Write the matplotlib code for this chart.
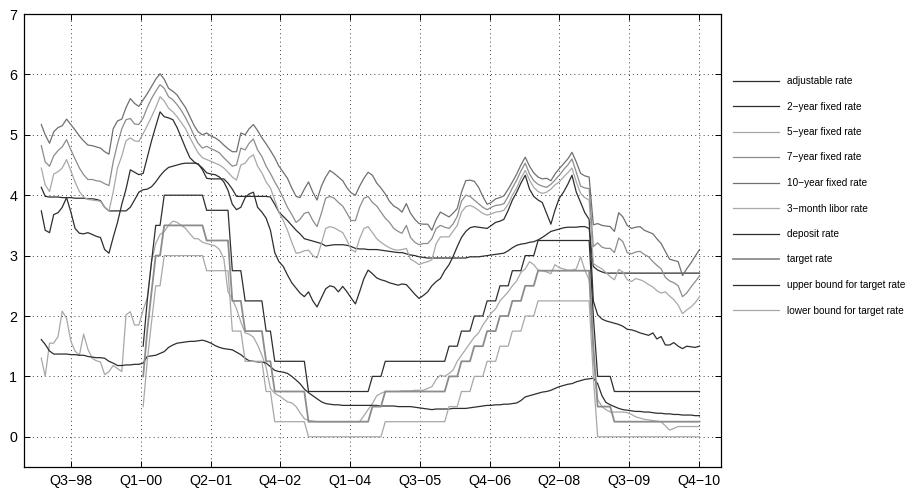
import datetime as dt

import matplotlib
matplotlib.use("Agg")
import matplotlib.pyplot as plt
import pandas as pd

plt.rcParams["font.family"] = ["Liberation Sans", "DejaVu Sans"]

# monthly observations, Feb 1998 .. Jan 2011
START = "1998-02-01"
N_MONTHS = 156

adjustable = [
    4.13, 3.98, 3.97, 3.97, 3.97, 3.96, 3.96, 3.96, 3.95, 3.95, 3.95, 3.94,
    3.94, 3.93, 3.91, 3.80, 3.74, 3.74, 3.74, 3.74, 3.74, 3.80, 3.92, 4.05,
    4.09, 4.10, 4.14, 4.22, 4.32, 4.40, 4.46, 4.48, 4.50, 4.52, 4.53, 4.53,
    4.53, 4.52, 4.42, 4.28, 4.27, 4.27, 4.27, 4.27, 4.20, 4.10, 3.98, 3.98,
    3.98, 3.98, 3.98, 3.98, 3.98, 3.98, 3.97, 3.85, 3.72, 3.65, 3.58, 3.50,
    3.42, 3.36, 3.28, 3.26, 3.24, 3.22, 3.20, 3.16, 3.17, 3.18, 3.18, 3.18,
    3.17, 3.15, 3.12, 3.11, 3.11, 3.10, 3.10, 3.10, 3.09, 3.08, 3.07, 3.06,
    3.05, 3.05, 3.03, 3.01, 3.00, 2.98, 2.97, 2.96, 2.96, 2.96, 2.96, 2.96,
    2.96, 2.96, 2.96, 2.96, 2.96, 2.98, 2.98, 2.98, 2.99, 3.00, 3.01, 3.02,
    3.03, 3.04, 3.08, 3.13, 3.17, 3.19, 3.20, 3.22, 3.23, 3.26, 3.30, 3.35,
    3.40, 3.42, 3.44, 3.46, 3.47, 3.47, 3.47, 3.48, 3.48, 3.45, 2.82, 2.76,
    2.73, 2.71, 2.71, 2.71, 2.71, 2.71, 2.71, 2.71, 2.71, 2.71, 2.71, 2.71,
    2.71, 2.71, 2.71, 2.71, 2.71, 2.71, 2.71, 2.71, 2.71, 2.71, 2.71, 2.71,
]

fixed_2y = [
    3.74, 3.42, 3.38, 3.68, 3.71, 3.80, 3.96, 3.72, 3.45, 3.37, 3.36, 3.38,
    3.35, 3.32, 3.30, 3.10, 3.04, 3.30, 3.55, 3.85, 4.10, 4.42, 4.38, 4.34,
    4.36, 4.62, 4.90, 5.14, 5.38, 5.30, 5.28, 5.25, 5.12, 4.95, 4.78, 4.62,
    4.55, 4.51, 4.45, 4.37, 4.35, 4.34, 4.30, 4.22, 4.08, 3.85, 3.76, 3.80,
    3.96, 4.02, 4.05, 3.80, 3.72, 3.62, 3.42, 3.05, 2.90, 2.82, 2.68, 2.55,
    2.46, 2.38, 2.32, 2.40, 2.25, 2.15, 2.30, 2.45, 2.50, 2.48, 2.40, 2.49,
    2.40, 2.30, 2.20, 2.40, 2.62, 2.76, 2.70, 2.63, 2.60, 2.58, 2.55, 2.53,
    2.51, 2.53, 2.52, 2.44, 2.36, 2.29, 2.34, 2.40, 2.50, 2.57, 2.62, 2.75,
    2.85, 2.98, 3.15, 3.30, 3.40, 3.46, 3.48, 3.47, 3.46, 3.45, 3.50, 3.55,
    3.57, 3.60, 3.75, 3.92, 4.05, 4.20, 4.33, 4.10, 3.98, 3.92, 3.88, 3.70,
    3.52, 3.75, 3.95, 4.05, 4.18, 4.33, 4.05, 3.88, 3.71, 3.60, 2.25, 2.02,
    1.95, 1.92, 1.90, 1.88, 1.86, 1.83, 1.78, 1.77, 1.75, 1.72, 1.70, 1.68,
    1.72, 1.62, 1.66, 1.52, 1.52, 1.56, 1.50, 1.46, 1.50, 1.49, 1.48, 1.50,
]

fixed_5y = [
    4.45, 4.17, 4.06, 4.35, 4.39, 4.45, 4.59, 4.40, 4.22, 4.06, 3.97, 3.93,
    3.92, 3.91, 3.90, 3.80, 3.74, 4.05, 4.45, 4.65, 4.90, 4.95, 4.90, 4.89,
    5.02, 5.15, 5.30, 5.45, 5.63, 5.56, 5.44, 5.38, 5.30, 5.20, 5.10, 4.95,
    4.82, 4.70, 4.62, 4.59, 4.56, 4.53, 4.50, 4.45, 4.38, 4.30, 4.25, 4.50,
    4.53, 4.62, 4.67, 4.48, 4.37, 4.22, 4.12, 3.92, 3.72, 3.58, 3.42, 3.22,
    3.04, 3.05, 3.08, 3.09, 3.00, 2.96, 3.20, 3.45, 3.48, 3.46, 3.42, 3.38,
    3.25, 3.10, 3.06, 3.28, 3.45, 3.48, 3.38, 3.28, 3.22, 3.17, 3.13, 3.10,
    3.09, 3.10, 3.12, 2.94, 2.90, 2.85, 2.88, 2.90, 2.93, 3.20, 3.31, 3.31,
    3.31, 3.40, 3.50, 3.72, 3.81, 3.83, 3.80, 3.75, 3.70, 3.67, 3.69, 3.72,
    3.73, 3.75, 3.85, 4.00, 4.12, 4.28, 4.41, 4.25, 4.13, 4.06, 4.03, 4.05,
    4.10, 4.17, 4.22, 4.30, 4.37, 4.45, 4.22, 4.03, 3.96, 3.92, 2.87, 2.82,
    2.78, 2.72, 2.65, 2.60, 2.77, 2.73, 2.60, 2.57, 2.62, 2.60, 2.57, 2.52,
    2.48, 2.42, 2.38, 2.40, 2.33, 2.27, 2.18, 2.04, 2.10, 2.15, 2.22, 2.32,
]

fixed_7y = [
    4.82, 4.55, 4.48, 4.65, 4.74, 4.80, 4.92, 4.75, 4.60, 4.45, 4.34, 4.26,
    4.26, 4.24, 4.23, 4.19, 4.16, 4.55, 4.85, 5.10, 5.25, 5.27, 5.18, 5.17,
    5.28, 5.45, 5.60, 5.72, 5.83, 5.77, 5.63, 5.58, 5.50, 5.40, 5.28, 5.14,
    4.98, 4.86, 4.78, 4.81, 4.77, 4.74, 4.70, 4.62, 4.55, 4.48, 4.50, 4.78,
    4.75, 4.86, 4.93, 4.75, 4.64, 4.48, 4.36, 4.22, 4.10, 3.95, 3.80, 3.68,
    3.55, 3.60, 3.70, 3.72, 3.58, 3.48, 3.70, 3.95, 3.98, 3.95, 3.88, 3.82,
    3.70, 3.58, 3.58, 3.80, 3.95, 3.98, 3.88, 3.82, 3.72, 3.62, 3.55, 3.45,
    3.40, 3.37, 3.50, 3.30, 3.22, 3.18, 3.20, 3.20, 3.28, 3.45, 3.50, 3.47,
    3.45, 3.52, 3.65, 3.90, 4.00, 3.98, 3.92, 3.86, 3.80, 3.76, 3.80, 3.83,
    3.84, 3.86, 3.98, 4.12, 4.25, 4.40, 4.53, 4.35, 4.24, 4.18, 4.15, 4.13,
    4.18, 4.25, 4.33, 4.42, 4.50, 4.60, 4.38, 4.15, 4.12, 4.11, 3.15, 3.21,
    3.14, 3.12, 3.12, 3.05, 3.29, 3.23, 3.05, 3.03, 3.06, 3.07, 3.02, 2.98,
    2.90, 2.84, 2.78, 2.64, 2.58, 2.55, 2.50, 2.32, 2.38, 2.48, 2.57, 2.66,
]

fixed_10y = [
    5.17, 5.00, 4.86, 5.05, 5.12, 5.15, 5.26, 5.17, 5.08, 4.98, 4.90, 4.83,
    4.82, 4.80, 4.78, 4.72, 4.68, 5.10, 5.23, 5.26, 5.45, 5.60, 5.52, 5.47,
    5.58, 5.68, 5.80, 5.92, 6.01, 5.92, 5.77, 5.72, 5.66, 5.55, 5.45, 5.30,
    5.15, 5.05, 5.00, 5.03, 4.98, 4.95, 4.90, 4.83, 4.77, 4.72, 4.72, 5.03,
    5.00, 5.10, 5.17, 5.07, 4.95, 4.85, 4.74, 4.62, 4.48, 4.38, 4.28, 4.12,
    3.98, 3.96, 4.10, 4.22, 4.05, 3.92, 4.15, 4.30, 4.41, 4.36, 4.30, 4.24,
    4.12, 4.04, 4.00, 4.15, 4.28, 4.38, 4.33, 4.20, 4.12, 4.02, 3.90, 3.82,
    3.78, 3.72, 3.86, 3.70, 3.60, 3.53, 3.52, 3.52, 3.42, 3.60, 3.72, 3.68,
    3.64, 3.70, 3.78, 4.05, 4.24, 4.25, 4.23, 4.13, 3.98, 3.85, 3.88, 3.94,
    3.96, 3.99, 4.10, 4.22, 4.35, 4.50, 4.63, 4.48, 4.37, 4.30, 4.27, 4.28,
    4.24, 4.35, 4.44, 4.52, 4.60, 4.71, 4.55, 4.36, 4.32, 4.30, 3.51, 3.53,
    3.50, 3.49, 3.48, 3.40, 3.71, 3.64, 3.50, 3.45, 3.47, 3.48, 3.42, 3.39,
    3.36, 3.28, 3.20, 3.07, 2.94, 2.92, 2.90, 2.67, 2.78, 2.88, 2.99, 3.10,
]

libor_3m = [
    1.30, 1.00, 1.55, 1.55, 1.66, 2.08, 1.96, 1.58, 1.42, 1.35, 1.70, 1.45,
    1.30, 1.26, 1.24, 1.03, 1.08, 1.18, 1.13, 1.08, 2.02, 2.07, 1.85, 1.85,
    2.10, 2.30, 2.90, 3.20, 3.35, 3.40, 3.50, 3.57, 3.55, 3.50, 3.45, 3.36,
    3.28, 3.28, 3.22, 3.20, 3.18, 3.16, 3.10, 2.95, 2.40, 2.28, 2.12, 1.90,
    1.72, 1.70, 1.65, 1.52, 1.35, 1.15, 0.80, 0.72, 0.68, 0.63, 0.58, 0.56,
    0.50, 0.40, 0.30, 0.27, 0.26, 0.25, 0.25, 0.25, 0.25, 0.25, 0.25, 0.25,
    0.25, 0.25, 0.25, 0.25, 0.35, 0.45, 0.55, 0.68, 0.72, 0.75, 0.75, 0.75,
    0.75, 0.76, 0.76, 0.76, 0.77, 0.77, 0.77, 0.80, 0.83, 0.95, 1.02, 1.00,
    1.05, 1.10, 1.25, 1.35, 1.45, 1.55, 1.65, 1.72, 1.85, 1.95, 2.05, 2.12,
    2.25, 2.32, 2.40, 2.50, 2.58, 2.72, 2.78, 2.90, 2.85, 2.76, 2.75, 2.73,
    2.70, 2.85, 2.80, 2.78, 2.76, 2.76, 2.78, 2.98, 2.76, 2.60, 1.30, 0.62,
    0.50, 0.45, 0.41, 0.41, 0.41, 0.41, 0.40, 0.37, 0.33, 0.31, 0.29, 0.28,
    0.27, 0.26, 0.25, 0.18, 0.11, 0.14, 0.17, 0.17, 0.17, 0.17, 0.17, 0.17,
]

deposit = [
    1.61, 1.53, 1.42, 1.37, 1.37, 1.37, 1.37, 1.36, 1.36, 1.35, 1.35, 1.33,
    1.32, 1.31, 1.31, 1.30, 1.25, 1.22, 1.18, 1.18, 1.19, 1.19, 1.20, 1.20,
    1.22, 1.33, 1.34, 1.35, 1.38, 1.41, 1.48, 1.52, 1.55, 1.56, 1.57, 1.58,
    1.58, 1.59, 1.60, 1.58, 1.55, 1.51, 1.48, 1.46, 1.45, 1.44, 1.40, 1.36,
    1.30, 1.26, 1.25, 1.24, 1.24, 1.22, 1.16, 1.10, 1.08, 1.07, 1.05, 1.00,
    0.94, 0.88, 0.79, 0.73, 0.68, 0.63, 0.58, 0.55, 0.54, 0.53, 0.53, 0.52,
    0.52, 0.52, 0.52, 0.52, 0.52, 0.52, 0.52, 0.52, 0.51, 0.51, 0.51, 0.51,
    0.50, 0.50, 0.50, 0.50, 0.49, 0.48, 0.47, 0.46, 0.45, 0.46, 0.46, 0.46,
    0.46, 0.47, 0.47, 0.47, 0.47, 0.48, 0.49, 0.50, 0.51, 0.52, 0.52, 0.53,
    0.53, 0.54, 0.54, 0.55, 0.56, 0.60, 0.66, 0.68, 0.70, 0.72, 0.74, 0.75,
    0.77, 0.80, 0.83, 0.85, 0.87, 0.88, 0.91, 0.93, 0.95, 0.96, 0.97, 0.88,
    0.68, 0.57, 0.53, 0.50, 0.47, 0.45, 0.44, 0.43, 0.42, 0.42, 0.41, 0.41,
    0.40, 0.39, 0.39, 0.38, 0.38, 0.37, 0.37, 0.36, 0.36, 0.36, 0.35, 0.35,
]

# SNB target band, starts Jan 2000 (first 24 months empty)
NAN = float("nan")
upper_bound = [NAN] * 24 + [
    1.50, 2.25, 2.90, 3.50, 3.50, 4.00, 4.00, 4.00, 4.00, 4.00, 4.00, 4.00,
    4.00, 4.00, 4.00, 3.75, 3.75, 3.75, 3.75, 3.75, 3.75, 2.75, 2.75, 2.75,
    2.25, 2.25, 2.25, 2.25, 2.25, 1.75, 1.75, 1.25, 1.25, 1.25, 1.25, 1.25,
    1.25, 1.25, 1.25, 0.75, 0.75, 0.75, 0.75, 0.75, 0.75, 0.75, 0.75, 0.75,
    0.75, 0.75, 0.75, 0.75, 0.75, 0.75, 1.00, 1.00, 1.00, 1.25, 1.25, 1.25,
    1.25, 1.25, 1.25, 1.25, 1.25, 1.25, 1.25, 1.25, 1.25, 1.25, 1.25, 1.25,
    1.50, 1.50, 1.50, 1.75, 1.75, 1.75, 2.00, 2.00, 2.00, 2.25, 2.25, 2.25,
    2.50, 2.50, 2.50, 2.75, 2.75, 2.75, 3.00, 3.00, 3.00, 3.25, 3.25, 3.25,
    3.25, 3.25, 3.25, 3.25, 3.25, 3.25, 3.25, 3.25, 3.25, 3.25, 2.00, 1.00,
    1.00, 1.00, 1.00, 0.75, 0.75, 0.75, 0.75, 0.75, 0.75, 0.75, 0.75, 0.75,
    0.75, 0.75, 0.75, 0.75, 0.75, 0.75, 0.75, 0.75, 0.75, 0.75, 0.75, 0.75,
]

target = [NAN] * 24 + [
    1.00, 1.75, 2.40, 3.00, 3.00, 3.50, 3.50, 3.50, 3.50, 3.50, 3.50, 3.50,
    3.50, 3.50, 3.50, 3.25, 3.25, 3.25, 3.25, 3.25, 3.25, 2.25, 2.25, 2.25,
    1.75, 1.75, 1.75, 1.75, 1.75, 1.25, 1.25, 0.75, 0.75, 0.75, 0.75, 0.75,
    0.75, 0.75, 0.75, 0.25, 0.25, 0.25, 0.25, 0.25, 0.25, 0.25, 0.25, 0.25,
    0.25, 0.25, 0.25, 0.25, 0.25, 0.25, 0.50, 0.50, 0.50, 0.75, 0.75, 0.75,
    0.75, 0.75, 0.75, 0.75, 0.75, 0.75, 0.75, 0.75, 0.75, 0.75, 0.75, 0.75,
    1.00, 1.00, 1.00, 1.25, 1.25, 1.25, 1.50, 1.50, 1.50, 1.75, 1.75, 1.75,
    2.00, 2.00, 2.00, 2.25, 2.25, 2.25, 2.50, 2.50, 2.50, 2.75, 2.75, 2.75,
    2.75, 2.75, 2.75, 2.75, 2.75, 2.75, 2.75, 2.75, 2.75, 2.75, 1.50, 0.50,
    0.50, 0.50, 0.50, 0.25, 0.25, 0.25, 0.25, 0.25, 0.25, 0.25, 0.25, 0.25,
    0.25, 0.25, 0.25, 0.25, 0.25, 0.25, 0.25, 0.25, 0.25, 0.25, 0.25, 0.25,
]

lower_bound = [NAN] * 24 + [
    0.50, 1.25, 1.90, 2.50, 2.50, 3.00, 3.00, 3.00, 3.00, 3.00, 3.00, 3.00,
    3.00, 3.00, 3.00, 2.75, 2.75, 2.75, 2.75, 2.75, 2.75, 1.75, 1.75, 1.75,
    1.25, 1.25, 1.25, 1.25, 1.25, 0.75, 0.75, 0.25, 0.25, 0.25, 0.25, 0.25,
    0.25, 0.25, 0.25, 0.00, 0.00, 0.00, 0.00, 0.00, 0.00, 0.00, 0.00, 0.00,
    0.00, 0.00, 0.00, 0.00, 0.00, 0.00, 0.00, 0.00, 0.00, 0.25, 0.25, 0.25,
    0.25, 0.25, 0.25, 0.25, 0.25, 0.25, 0.25, 0.25, 0.25, 0.25, 0.25, 0.25,
    0.50, 0.50, 0.50, 0.75, 0.75, 0.75, 1.00, 1.00, 1.00, 1.25, 1.25, 1.25,
    1.50, 1.50, 1.50, 1.75, 1.75, 1.75, 2.00, 2.00, 2.00, 2.25, 2.25, 2.25,
    2.25, 2.25, 2.25, 2.25, 2.25, 2.25, 2.25, 2.25, 2.25, 2.25, 1.00, 0.00,
    0.00, 0.00, 0.00, 0.00, 0.00, 0.00, 0.00, 0.00, 0.00, 0.00, 0.00, 0.00,
    0.00, 0.00, 0.00, 0.00, 0.00, 0.00, 0.00, 0.00, 0.00, 0.00, 0.00, 0.00,
]

series_labels = [
    "adjustable rate", "2\u2212year fixed rate", "5\u2212year fixed rate",
    "7\u2212year fixed rate", "10\u2212year fixed rate", "3\u2212month libor rate",
    "deposit rate", "target rate", "upper bound for target rate",
    "lower bound for target rate",
]

tick_labels = ["Q3\u221298", "Q1\u221200", "Q2\u221201", "Q4\u221202", "Q1\u221204",
               "Q3\u221205", "Q4\u221206", "Q2\u221208", "Q3\u221209", "Q4\u221210"]

DARK, MID, LIGHT, PALE = "#2e2e2e", "#707070", "#8c8c8c", "#a8a8a8"
styles = [
    (DARK, 0.9), (DARK, 0.9), (PALE, 0.9), (LIGHT, 0.9), (MID, 0.9),
    (PALE, 0.9), (DARK, 0.9), (LIGHT, 1.3), (DARK, 0.9), (PALE, 0.9),
]


def matlab_day(n):
    # MATLAB datenum -> python date
    return dt.date.fromordinal(int(n) - 366)


def main():
    dates = pd.date_range(START, periods=N_MONTHS, freq="MS")
    data = [adjustable, fixed_2y, fixed_5y, fixed_7y, fixed_10y, libor_3m,
            deposit, target, upper_bound, lower_bound]

    fig = plt.figure(figsize=(9.11, 4.92), dpi=100)
    ax = fig.add_axes([24 / 911, 25 / 492, 697 / 911, 453 / 492])

    handles = []
    for vals, lab, (col, lw) in zip(data, series_labels, styles):
        h, = ax.plot(dates, vals, color=col, lw=lw, label=lab)
        handles.append(h)

    ticks = [matlab_day(500 * k) for k in range(1460, 1470)]
    ax.set_xticks(ticks)
    ax.set_xticklabels(tick_labels)
    ax.set_xlim(matlab_day(729663), matlab_day(734658))
    ax.set_ylim(-0.5, 7)
    ax.set_yticks(range(0, 8))

    ax.grid(True, color="black", lw=0.6, ls=(0, (1, 4)))
    ax.tick_params(direction="in", top=True, right=True, length=4,
                   labelsize=10.3, pad=5, width=0.7)
    for s in ax.spines.values():
        s.set_linewidth(0.9)

    fig.legend(handles=handles, labels=series_labels, loc="upper left",
               bbox_to_anchor=(729 / 911, 1 - 72 / 492), frameon=False,
               fontsize=7.2, labelspacing=1.55, handlelength=4.6,
               handletextpad=0.8, borderaxespad=0)

    fig.savefig("out.png", dpi=100)


if __name__ == "__main__":
    main()
